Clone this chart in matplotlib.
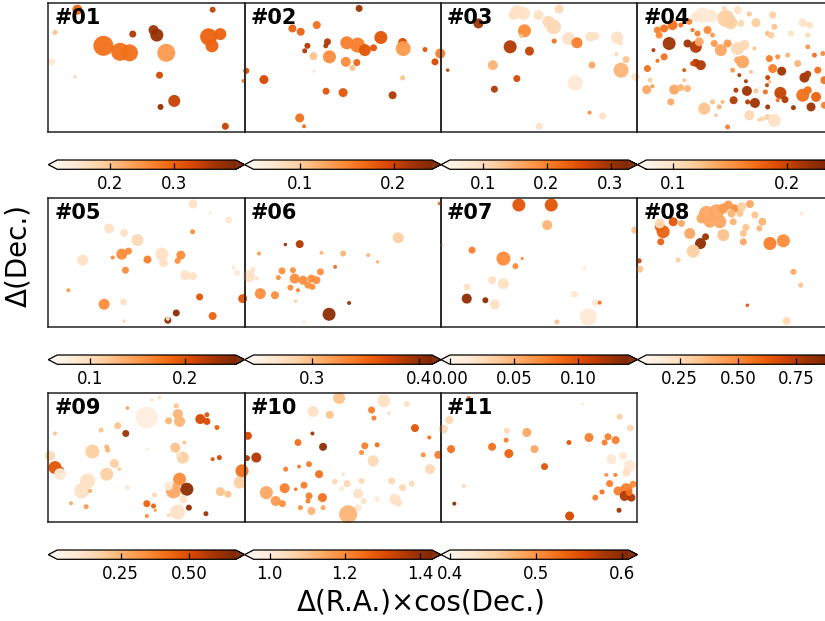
import numpy as np
import matplotlib
matplotlib.use("Agg")
import matplotlib.pyplot as plt
from matplotlib.colors import Normalize

# ---------------- data (x, y offsets, marker diameter [px], colour level 0-1) -------------
P01 = [(29, 122, 10, 0.65), (6.7, 99.3, 5, 0.3), (3.3, 70, 7, 0.1), (26.7, 55, 3.5, 0.2),
       (55, 86, 20, 0.6), (71.7, 80, 18, 0.6), (81, 79, 17, 0.6), (84.3, 97.7, 7, 0.85),
       (105, 101.7, 10, 0.9), (108.3, 96.7, 13, 0.92), (117.7, 79, 18, 0.45), (111, 56.7, 7, 0.75),
       (125.7, 31, 12, 0.8), (112, 25, 6, 0.92), (164, 122, 6, 0.8), (160, 95, 17, 0.65),
       (171.7, 97.7, 12, 0.65), (163.3, 86, 13, 0.65), (176.7, 5.7, 7, 0.8)]

P02 = [(114.3, 123.3, 7, 0.9), (47.7, 103.3, 8, 0.65), (56, 100, 8, 0.65), (72, 106.7, 8, 0.6),
       (62.7, 86, 6, 0.85), (60, 81, 5, 0.85), (82.7, 90, 7, 0.85), (81, 86, 5, 0.85),
       (68.7, 75.7, 8, 0.3), (84.7, 75, 13, 0.5), (102, 89, 13, 0.55), (112.7, 86.7, 15, 0.55),
       (120, 81.7, 12, 0.7), (128.7, 84, 7, 0.7), (136, 94.3, 13, 0.7), (101, 70, 10, 0.5),
       (112, 69.3, 7, 0.65), (107.7, 64, 6, 0.3), (157.7, 89.3, 9, 0.75), (158.3, 83.3, 15, 0.45),
       (180, 82.3, 5, 0.7), (195.3, 78.3, 10, 0.55), (190, 70, 7, 0.75), (69.3, 60.7, 3, 0.15),
       (19.3, 52.3, 9, 0.75), (1.7, 61, 6, 0.75), (-1.3, 51, 3.5, 0.6), (157.7, 54, 5, 0.3),
       (81.3, 40.7, 7, 0.7), (98.3, 39.3, 9, 0.7), (147.7, 36.7, 8, 0.85), (55, 14, 9, 0.6),
       (59.3, 5.7, 4, 0.6)]

P03 = [(37.3, 108.3, 10, 0.9), (6.7, 61.7, 3.5, 0.8), (75.7, 120, 13, 0.15), (82.3, 118.3, 13, 0.15),
       (72.3, 116.7, 10, 0.15), (97.3, 116.7, 10, 0.15), (118, 122.7, 9, 0.2), (107.3, 110, 12, 0.2),
       (112.3, 105, 15, 0.2), (83.3, 101, 13, 0.5), (80, 95.7, 4, 0.3), (127.3, 93.3, 13, 0.15),
       (135.7, 89, 11, 0.55), (113, 90.7, 5, 0.6), (149, 95, 10, 0.15), (154, 95.7, 8, 0.15),
       (175.7, 94.3, 12, 0.15), (179, 89, 5, 0.15), (69, 85, 13, 0.85), (88.3, 80.7, 9, 0.8),
       (51.7, 66.7, 10, 0.35), (75.7, 53.3, 7, 0.75), (53.3, 42.7, 7, 0.85), (134, 49, 15, 0.1),
       (150.7, 66.7, 7, 0.4), (175, 77.7, 4, 0.2), (184.7, 72.3, 7, 0.3), (179.7, 61.7, 15, 0.35),
       (194, 55, 8, 0.15), (148.3, 19.3, 4, 0.5), (161.3, 16, 7, 0.15), (98, 5.7, 7, 0.15)]

P04 = [(65, 116.7, 15, 0.1), (73.3, 115.7, 13, 0.1), (58.3, 115, 10, 0.12), (88.3, 113.3, 17, 0.25),
       (93.3, 109, 13, 0.25), (100, 121.7, 8, 0.15), (103.3, 108.3, 7, 0.2), (111.7, 117.7, 5, 0.3),
       (118.3, 109, 9, 0.25), (135, 116.7, 7, 0.25), (136.7, 105, 6, 0.3), (130, 98.3, 5, 0.35),
       (133.3, 96.7, 7, 0.25), (153.3, 98.3, 6, 0.15), (165, 109, 8, 0.15), (171.7, 106.7, 7, 0.15),
       (170, 96.7, 5, 0.2), (86.7, 123.3, 5, 0.2), (26.7, 103.3, 8, 0.6), (35, 106.7, 10, 0.6),
       (20, 101.7, 7, 0.55), (21.7, 96.7, 7, 0.5), (43.3, 106.7, 5, 0.6), (51.7, 110, 6, 0.55),
       (55, 101.7, 4, 0.6), (60, 98.3, 6, 0.55), (70, 101.7, 8, 0.5), (75, 96.7, 5, 0.45),
       (31.7, 88.3, 13, 0.9), (50, 88.3, 8, 0.9), (58.3, 85, 12, 0.85), (61.7, 90, 9, 0.4),
       (16, 81.7, 4, 0.85), (26.7, 75, 7, 0.6), (20, 71, 4, 0.6), (76.7, 88.3, 7, 0.45),
       (83.3, 81.7, 12, 0.4), (90, 88.3, 8, 0.45), (100, 83.3, 13, 0.2), (106.7, 86.7, 10, 0.2),
       (116.7, 83.3, 4, 0.3), (58.3, 69, 8, 0.85), (63.3, 66.7, 10, 0.85), (55, 68.3, 5, 0.75),
       (46.7, 61.7, 4, 0.7), (10, 63.3, 7, 0.6), (12.7, 51.7, 5, 0.25), (15, 45.7, 4, 0.45),
       (9.3, 42.3, 9, 0.4), (105, 70, 13, 0.4), (100, 71.7, 7, 0.4), (95, 61.7, 5, 0.45),
       (101.7, 56.7, 4, 0.85), (108.3, 50.7, 4, 0.85), (113.3, 60, 4, 0.3), (131.7, 73.3, 7, 0.55),
       (140, 75, 5, 0.5), (135, 63.3, 9, 0.55), (144, 60.7, 9, 0.9), (130, 54.3, 5, 0.8),
       (129.3, 46.7, 4, 0.8), (127.7, 40, 5, 0.6), (131.7, 50, 4, 0.3), (150, 76.7, 5, 0.35),
       (160, 68.3, 7, 0.35), (170, 85, 5, 0.45), (176.7, 76.7, 5, 0.6), (185, 78.3, 5, 0.5),
       (166.7, 54.3, 10, 0.9), (170, 57.7, 7, 0.85), (180, 61.7, 7, 0.6), (186.7, 51.7, 8, 0.6),
       (98.3, 41.7, 5, 0.85), (109.3, 41, 10, 0.9), (118.3, 41, 5, 0.3), (142.7, 39, 12, 0.8),
       (147.3, 32.3, 7, 0.85), (140, 31.7, 4, 0.6), (96, 31.7, 8, 0.85), (110, 30, 5, 0.85),
       (117.3, 29, 10, 0.9), (130, 25, 5, 0.9), (155.7, 24.3, 5, 0.9), (165, 36.7, 13, 0.6),
       (170, 41.7, 8, 0.6), (178.3, 35, 10, 0.65), (173.3, 25, 9, 0.9), (186.7, 26.7, 7, 0.55),
       (36.7, 42.3, 10, 0.4), (43.3, 44.3, 7, 0.35), (50, 43.3, 7, 0.35), (46.7, 51.7, 4, 0.3),
       (33.3, 30, 7, 0.4), (66.7, 23.3, 12, 0.3), (75, 30, 5, 0.3), (81.7, 25, 5, 0.35),
       (85, 30, 4, 0.35), (78.3, 16.7, 3.5, 0.3), (111.7, 16.7, 10, 0.2), (130, 15, 6, 0.25),
       (125, 13.3, 5, 0.2), (136.7, 11.7, 13, 0.15), (90, 5, 5, 0.55), (121.7, 12.3, 4, 0.25)]

P05 = [(144.3, 122.7, 9, 0.15), (161.7, 114, 3.5, 0.05), (180, 106.7, 7, 0.1), (60.7, 98.3, 10, 0.15),
       (75.7, 94, 8, 0.15), (89, 86.7, 12, 0.2), (144, 95, 5, 0.5), (34.3, 66.7, 11, 0.15),
       (64.3, 69.3, 4, 0.5), (73.3, 72.7, 11, 0.5), (80, 75.7, 7, 0.5), (99, 67.3, 8, 0.55),
       (113.3, 72.7, 13, 0.15), (115, 64, 9, 0.15), (132.3, 71.7, 9, 0.5), (129, 66, 6, 0.5),
       (77, 56.7, 7, 0.5), (136.7, 51.7, 10, 0.15), (144.3, 50.7, 8, 0.15), (185, 59.3, 4, 0.1),
       (188.3, 54, 6, 0.1), (20, 36.7, 4, 0.45), (55.7, 22.7, 11, 0.5), (75, 25, 7, 0.15),
       (75.7, 5.7, 3.5, 0.2), (151, 30, 7, 0.7), (194, 28.3, 9, 0.7), (164, 11, 8, 0.65),
       (127.7, 14, 7, 0.95), (119.3, 6.7, 7, 0.95), (119.3, 8.3, 4, 0.1)]

P06 = [(153.3, 89, 11, 0.25), (55, 82.7, 8, 0.85), (40.7, 82.3, 3.5, 0.9), (14.3, 73.3, 4, 0.45),
       (76.7, 74, 4, 0.35), (98.3, 73.3, 6, 0.35), (123.3, 71.7, 4, 0.35), (132.7, 65, 3.5, 0.35),
       (90.3, 60, 4, 0.6), (4.3, 50.7, 12, 0.15), (8.3, 57.3, 5, 0.15), (12.3, 48.3, 4, 0.15),
       (37.3, 56, 7, 0.5), (48.3, 56.7, 6, 0.5), (33.7, 49.3, 5, 0.5), (50, 48.3, 10, 0.5),
       (58.3, 46.7, 9, 0.5), (63.3, 41.7, 7, 0.5), (66.7, 48.3, 8, 0.5), (71.7, 46.7, 8, 0.5),
       (75.7, 55, 7, 0.5), (67.7, 40, 6, 0.5), (45.7, 39.3, 6, 0.5), (53.3, 36.7, 4, 0.55),
       (15.7, 33.3, 11, 0.5), (30.3, 31.7, 8, 0.5), (51, 25.7, 3.5, 0.25), (104.3, 24, 4, 0.9),
       (84.3, 12.7, 13, 0.95), (59.3, 5, 3.5, 0.1)]

P07 = [(77.7, 121.7, 13, 0.7), (110, 121.7, 13, 0.7), (106, 101.7, 10, 0.35), (-1.7, 123.3, 3.5, 0.6),
       (193.3, 96.7, 7, 0.3), (31, 76.7, 7, 0.55), (62.3, 68.3, 14, 0.5), (74.3, 60.7, 6, 0.5),
       (81, 68.3, 3, 0.55), (143.3, 58.3, 5, 0.05), (51, 46.7, 8, 0.15), (62.3, 43.3, 11, 0.15),
       (26, 40, 7, 0.15), (25.7, 28.3, 10, 0.95), (44.3, 26.7, 6, 0.95), (53.7, 22.3, 10, 0.15),
       (133.3, 32.7, 7, 0.1), (154, 24.3, 7, 0.1), (158.3, 24.3, 4, 0.6), (147, 10, 17, 0.1),
       (115.7, 5, 5, 0.3), (0.7, 81.7, 3, 0.3)]

P08 = [(69, 113.3, 15, 0.4), (79, 115, 15, 0.4), (64, 108.3, 10, 0.4), (72.3, 105, 12, 0.4),
       (82.3, 105, 13, 0.4), (85.7, 118.3, 10, 0.45), (90.7, 121.7, 9, 0.45), (97.3, 118.3, 8, 0.5),
       (104, 120, 9, 0.25), (112.3, 122.7, 8, 0.4), (94, 113.3, 8, 0.35), (102.3, 113.3, 7, 0.3),
       (25.7, 95, 13, 0.65), (22.3, 100, 10, 0.65), (22.3, 103.3, 10, 0.2), (35.7, 105, 9, 0.7),
       (44, 103.3, 7, 0.4), (23.3, 85, 7, 0.65), (52.3, 93.3, 11, 0.4), (63, 83.3, 11, 0.95),
       (68, 90, 7, 0.9), (55.7, 75.7, 13, 0.25), (85.7, 91.7, 12, 0.3), (95.7, 105, 7, 0.35),
       (105.7, 93.3, 7, 0.3), (108.3, 99.3, 7, 0.3), (105.7, 85, 7, 0.4), (117.3, 111.7, 7, 0.3),
       (124.7, 105, 8, 0.35), (121.7, 98.3, 6, 0.35), (132.3, 83.3, 13, 0.55), (145.7, 86, 13, 0.5),
       (164, 113.3, 4, 0.1), (40.7, 66.7, 5, 0.25), (1.7, 66, 5, 0.8), (2.3, 57.7, 7, 0.3),
       (155.7, 55, 6, 0.4), (163, 41.7, 5, 0.3), (109.7, 21.7, 3.5, 0.7), (149, 6, 8, 0.2)]

P09 = [(98.3, 104.3, 22, 0.05), (111, 124.3, 4, 0.15), (103.3, 121.7, 3.5, 0.15), (79, 113.7, 3.5, 0.45),
       (127.7, 116, 5, 0.3), (129.3, 107.7, 10, 0.35), (120, 101, 7, 0.35), (131, 100.3, 11, 0.35),
       (151.7, 102.7, 10, 0.75), (158.3, 100.3, 7, 0.75), (158.3, 107, 5, 0.7), (168.3, 94.3, 5, 0.65),
       (69.3, 96, 7, 0.3), (52.7, 91.7, 5, 0.3), (6.7, 88.3, 4, 0.3), (77.3, 88.3, 7, 0.9),
       (44, 70.3, 14, 0.25), (58.3, 75, 5, 0.35), (59.3, 71.7, 5, 0.35), (99, 72.7, 3.5, 0.1),
       (126.7, 74.3, 10, 0.3), (135.7, 79.3, 4, 0.3), (134.3, 64.3, 12, 0.25), (130, 67, 5, 0.15),
       (164, 62.7, 4, 0.7), (170.7, 64.3, 5, 0.75), (1.7, 66, 10, 0.2), (6.7, 54.3, 13, 0.7),
       (12.3, 51.7, 7, 0.7), (11.7, 47.7, 12, 0.1), (66, 58.3, 9, 0.25), (71, 52.7, 4, 0.25),
       (58.3, 47.7, 13, 0.25), (39.3, 41, 15, 0.15), (33.3, 31, 15, 0.15), (79, 34.3, 5, 0.1),
       (131, 42.7, 13, 0.5), (125, 31, 15, 0.4), (120, 36, 9, 0.1), (138.3, 32.7, 13, 0.95),
       (135, 22.7, 8, 0.15), (106, 27, 5, 0.2), (98.3, 18.3, 7, 0.65), (105, 16, 5, 0.65),
       (106.7, 11.7, 3.5, 0.4), (140.3, 14.3, 6, 0.95), (129, 10, 15, 0.15), (120, 6.7, 4, 0.2),
       (98.3, 6, 4, 0.5), (157.3, 8.3, 5, 0.9), (171.7, 30.3, 9, 0.3), (179.3, 27.7, 7, 0.3),
       (193.3, 51, 13, 0.6), (191, 39.3, 12, 0.25), (22.7, 18.7, 4, 0.4), (37.7, 15.3, 5, 0.45),
       (41.7, 31, 4, 0.4)]

P10 = [(94.3, 123.7, 12, 0.3), (139, 121, 13, 0.15), (161.7, 117.7, 6, 0.15), (68.3, 110.3, 11, 0.15),
       (85, 107, 8, 0.3), (126.7, 111.7, 7, 0.55), (129, 103.7, 5, 0.55), (144, 108.3, 4, 0.15),
       (170, 93.7, 8, 0.7), (67.7, 88.3, 4, 0.9), (3.3, 86, 8, 0.75), (11.7, 64.3, 10, 0.85),
       (2.3, 63.7, 6, 0.85), (53.3, 79.3, 7, 0.6), (78.3, 75, 8, 0.95), (120, 76, 7, 0.55),
       (132.3, 77, 5, 0.6), (116.7, 69.3, 5, 0.5), (184.3, 84.3, 4, 0.6), (178.3, 67, 5, 0.5),
       (193.3, 67, 8, 0.55), (128.3, 61, 11, 0.2), (185, 52.7, 10, 0.2), (41, 52.7, 5, 0.55),
       (54.3, 55.3, 4, 0.55), (64.3, 57.7, 6, 0.55), (74.3, 47.7, 8, 0.6), (98.3, 47.7, 3.5, 0.15),
       (90, 40.3, 6, 0.2), (102.3, 38.3, 7, 0.2), (116.7, 41, 6, 0.2), (146.7, 41, 7, 0.2),
       (157.7, 34.3, 7, 0.2), (166.7, 38.3, 6, 0.2), (40, 33.7, 10, 0.55), (59.3, 36.7, 7, 0.55),
       (51, 32.7, 3.5, 0.6), (21.7, 29.3, 13, 0.4), (31, 21, 10, 0.45), (37.7, 18.3, 7, 0.5),
       (64.3, 26, 7, 0.55), (63.3, 21, 5, 0.55), (77.7, 24.3, 9, 0.6), (55.7, 14.3, 5, 0.5),
       (66.7, 11, 8, 0.35), (78.3, 14.3, 5, 0.4), (113.3, 28.3, 10, 0.15), (119, 21, 6, 0.15),
       (113.3, 14.3, 7, 0.1), (132.3, 22.7, 5, 0.1), (150, 22.7, 11, 0.15), (153.3, 19.3, 8, 0.15),
       (103.3, 7.7, 18, 0.35), (96.7, 33.3, 5, 0.1)]

P11 = [(27.7, 123.7, 4, 0.6), (141, 117.7, 3.5, 0.05), (178.3, 105, 6, 0.25), (189, 93.7, 7, 0.2),
       (2.3, 92.7, 9, 0.2), (8.3, 101.7, 8, 0.2), (65.7, 91, 6, 0.2), (85.7, 89.3, 9, 0.4),
       (65, 81.7, 5, 0.55), (147.7, 84.3, 9, 0.55), (166.7, 85, 7, 0.55), (163.3, 79.3, 6, 0.55),
       (174.3, 81.7, 8, 0.55), (127.7, 79.3, 5, 0.7), (10, 72.7, 8, 0.6), (51, 75, 8, 0.6),
       (67.7, 68.3, 9, 0.65), (93.3, 72.7, 8, 0.4), (103.3, 55.3, 7, 0.7), (181.7, 66, 8, 0.1),
       (170, 62.7, 10, 0.1), (188.3, 56, 12, 0.1), (185, 49.3, 8, 0.15), (165, 47, 4, 0.5),
       (174, 47, 4, 0.55), (168.3, 38.3, 7, 0.55), (176.7, 31, 9, 0.55), (185, 32.7, 12, 0.55),
       (191.7, 37.7, 7, 0.5), (183.3, 26, 10, 0.85), (190, 24.3, 8, 0.85), (187.7, 29.3, 7, 0.6),
       (160.7, 30, 5, 0.6), (154, 24.3, 6, 0.55), (22.7, 36, 4, 0.2), (13.3, 18.3, 4, 0.95),
       (128.3, 6, 9, 0.75), (177.7, 11.7, 5, 0.9)]

PANELS = [P01, P02, P03, P04, P05, P06, P07, P08, P09, P10, P11]
LABELS = ['#01', '#02', '#03', '#04', '#05', '#06', '#07', '#08', '#09', '#10', '#11']
VMIN = [0.117, 0.051, 0.049, 0.077, 0.066, 0.246, 0.0, 0.107, 0.018, 0.957, 0.400]
VMAX = [0.397, 0.241, 0.328, 0.233, 0.253, 0.412, 0.139, 0.872, 0.672, 1.432, 0.607]
TICKS = [[0.2, 0.3], [0.1, 0.2], [0.1, 0.2, 0.3], [0.1, 0.2], [0.1, 0.2], [0.3, 0.4],
         [0.00, 0.05, 0.10], [0.25, 0.50, 0.75], [0.25, 0.50], [1.0, 1.2, 1.4], [0.4, 0.5, 0.6]]

# ---------------- layout ----------------
W, H = 825, 621
DPI = 100
fig = plt.figure(figsize=(W / DPI, H / DPI), dpi=DPI)
fig.patch.set_facecolor('white')

col_left = [48.3, 244.6, 441.0, 637.4]
row_top = [3.3, 198.3, 393.3]
pw, ph = 196.4, 128.7
cb_off, cb_h = 156.7, 9.3
XR, YR = 196.0, 128.4

cmap = plt.get_cmap('Oranges')

for i, pts in enumerate(PANELS):
    r, c = divmod(i, 4)
    l, t = col_left[c], row_top[r]
    ax = fig.add_axes([l / W, 1 - (t + ph) / H, pw / W, ph / H])
    ax.patch.set_alpha(0)
    arr = np.array(pts, dtype=float)
    x, y, d, lv = arr[:, 0], arr[:, 1], arr[:, 2], arr[:, 3]
    val = VMIN[i] + lv * (VMAX[i] - VMIN[i])
    norm = Normalize(vmin=VMIN[i], vmax=VMAX[i])
    sc = ax.scatter(x, y, s=(d * 72.0 / DPI) ** 2, c=val, cmap=cmap, norm=norm,
                    edgecolors='none', alpha=0.95, clip_on=False, zorder=2)
    ax.set_xlim(0, XR)
    ax.set_ylim(0, YR)
    ax.set_xticks([])
    ax.set_yticks([])
    for sp in ax.spines.values():
        sp.set_linewidth(1.1)
        sp.set_color('#222222')
        sp.set_zorder(3)
    ax.text(0.03, 0.965, LABELS[i], transform=ax.transAxes, fontsize=15,
            fontweight='bold', va='top', ha='left', zorder=4)

    cax = fig.add_axes([l / W, 1 - (t + cb_off + cb_h) / H, pw / W, cb_h / H])
    cb = fig.colorbar(sc, cax=cax, orientation='horizontal', extend='both', ticks=TICKS[i])
    cb.solids.set_alpha(1)
    cb.ax.tick_params(direction='in', length=4, width=0.9, labelsize=12, pad=4, colors='black')
    cb.outline.set_linewidth(0.9)

fig.text(0.51, 0.029, 'Δ(R.A.)×cos(Dec.)', fontsize=20, ha='center', va='center')
fig.text(0.022, 0.589, 'Δ(Dec.)', fontsize=20, ha='center', va='center', rotation=90)

fig.savefig('out.png', dpi=DPI, facecolor='white')
